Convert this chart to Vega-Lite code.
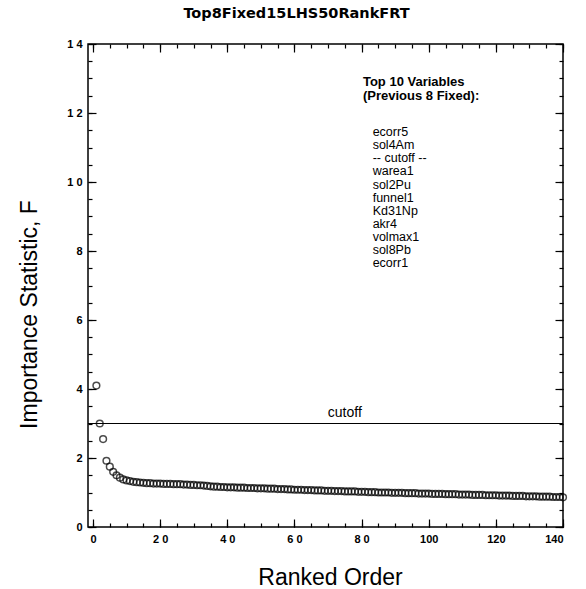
{
  "$schema": "https://vega.github.io/schema/vega-lite/v6.json",
  "width": 475,
  "height": 483,
  "autosize": {"type": "none"},
  "padding": {"left": 88, "top": 44, "right": 23, "bottom": 62},
  "background": "white",
  "title": {
    "text": "Top8Fixed15LHS50RankFRT",
    "font": "DejaVu Sans",
    "fontSize": 14.5,
    "fontWeight": "bold",
    "anchor": "middle",
    "frame": "group",
    "baseline": "alphabetic",
    "offset": 6,
    "dx": -29,
    "color": "black"
  },
  "config": {
    "view": {"stroke": "black", "strokeWidth": 1.5},
    "axis": {
      "domain": false,
      "grid": false,
      "tickColor": "black",
      "tickWidth": 1.2,
      "labelColor": "black",
      "titleColor": "black"
    }
  },
  "datasets": {
    "ranks": [
      {"rank": 1, "F": 4.10}, {"rank": 2, "F": 3.00}, {"rank": 3, "F": 2.55}, {"rank": 4, "F": 1.92},
      {"rank": 5, "F": 1.75}, {"rank": 6, "F": 1.60}, {"rank": 7, "F": 1.50}, {"rank": 8, "F": 1.43},
      {"rank": 9, "F": 1.38}, {"rank": 10, "F": 1.35}, {"rank": 11, "F": 1.33}, {"rank": 12, "F": 1.31},
      {"rank": 13, "F": 1.30}, {"rank": 14, "F": 1.29}, {"rank": 15, "F": 1.28}, {"rank": 16, "F": 1.27},
      {"rank": 17, "F": 1.27}, {"rank": 18, "F": 1.26}, {"rank": 19, "F": 1.26}, {"rank": 20, "F": 1.26},
      {"rank": 21, "F": 1.25}, {"rank": 22, "F": 1.25}, {"rank": 23, "F": 1.25}, {"rank": 24, "F": 1.24},
      {"rank": 25, "F": 1.24}, {"rank": 26, "F": 1.24}, {"rank": 27, "F": 1.23}, {"rank": 28, "F": 1.23},
      {"rank": 29, "F": 1.22}, {"rank": 30, "F": 1.22}, {"rank": 31, "F": 1.21}, {"rank": 32, "F": 1.21},
      {"rank": 33, "F": 1.20}, {"rank": 34, "F": 1.19}, {"rank": 35, "F": 1.18}, {"rank": 36, "F": 1.17},
      {"rank": 37, "F": 1.17}, {"rank": 38, "F": 1.16}, {"rank": 39, "F": 1.16}, {"rank": 40, "F": 1.15},
      {"rank": 41, "F": 1.15}, {"rank": 42, "F": 1.15}, {"rank": 43, "F": 1.14}, {"rank": 44, "F": 1.14},
      {"rank": 45, "F": 1.14}, {"rank": 46, "F": 1.13}, {"rank": 47, "F": 1.13}, {"rank": 48, "F": 1.13},
      {"rank": 49, "F": 1.12}, {"rank": 50, "F": 1.12}, {"rank": 51, "F": 1.12}, {"rank": 52, "F": 1.11},
      {"rank": 53, "F": 1.11}, {"rank": 54, "F": 1.11}, {"rank": 55, "F": 1.10}, {"rank": 56, "F": 1.10},
      {"rank": 57, "F": 1.10}, {"rank": 58, "F": 1.09}, {"rank": 59, "F": 1.09}, {"rank": 60, "F": 1.08},
      {"rank": 61, "F": 1.08}, {"rank": 62, "F": 1.08}, {"rank": 63, "F": 1.07}, {"rank": 64, "F": 1.07},
      {"rank": 65, "F": 1.07}, {"rank": 66, "F": 1.06}, {"rank": 67, "F": 1.06}, {"rank": 68, "F": 1.06},
      {"rank": 69, "F": 1.05}, {"rank": 70, "F": 1.05}, {"rank": 71, "F": 1.05}, {"rank": 72, "F": 1.04},
      {"rank": 73, "F": 1.04}, {"rank": 74, "F": 1.04}, {"rank": 75, "F": 1.03}, {"rank": 76, "F": 1.03},
      {"rank": 77, "F": 1.03}, {"rank": 78, "F": 1.03}, {"rank": 79, "F": 1.02}, {"rank": 80, "F": 1.02},
      {"rank": 81, "F": 1.02}, {"rank": 82, "F": 1.01}, {"rank": 83, "F": 1.01}, {"rank": 84, "F": 1.01},
      {"rank": 85, "F": 1.00}, {"rank": 86, "F": 1.00}, {"rank": 87, "F": 1.00}, {"rank": 88, "F": 1.00},
      {"rank": 89, "F": 0.99}, {"rank": 90, "F": 0.99}, {"rank": 91, "F": 0.99}, {"rank": 92, "F": 0.99},
      {"rank": 93, "F": 0.98}, {"rank": 94, "F": 0.98}, {"rank": 95, "F": 0.98}, {"rank": 96, "F": 0.98},
      {"rank": 97, "F": 0.97}, {"rank": 98, "F": 0.97}, {"rank": 99, "F": 0.97}, {"rank": 100, "F": 0.97},
      {"rank": 101, "F": 0.96}, {"rank": 102, "F": 0.96}, {"rank": 103, "F": 0.96}, {"rank": 104, "F": 0.96},
      {"rank": 105, "F": 0.95}, {"rank": 106, "F": 0.95}, {"rank": 107, "F": 0.95}, {"rank": 108, "F": 0.95},
      {"rank": 109, "F": 0.94}, {"rank": 110, "F": 0.94}, {"rank": 111, "F": 0.94}, {"rank": 112, "F": 0.94},
      {"rank": 113, "F": 0.93}, {"rank": 114, "F": 0.93}, {"rank": 115, "F": 0.93}, {"rank": 116, "F": 0.93},
      {"rank": 117, "F": 0.92}, {"rank": 118, "F": 0.92}, {"rank": 119, "F": 0.92}, {"rank": 120, "F": 0.92},
      {"rank": 121, "F": 0.91}, {"rank": 122, "F": 0.91}, {"rank": 123, "F": 0.91}, {"rank": 124, "F": 0.91},
      {"rank": 125, "F": 0.90}, {"rank": 126, "F": 0.90}, {"rank": 127, "F": 0.90}, {"rank": 128, "F": 0.90},
      {"rank": 129, "F": 0.89}, {"rank": 130, "F": 0.89}, {"rank": 131, "F": 0.89}, {"rank": 132, "F": 0.89},
      {"rank": 133, "F": 0.88}, {"rank": 134, "F": 0.88}, {"rank": 135, "F": 0.88}, {"rank": 136, "F": 0.88},
      {"rank": 137, "F": 0.87}, {"rank": 138, "F": 0.87}, {"rank": 139, "F": 0.87}, {"rank": 140, "F": 0.86}
    ]
  },
  "data": {"name": "ranks"},
  "resolve": {"axis": {"x": "independent", "y": "independent"}},
  "layer": [
    {
      "mark": {"type": "point", "shape": "circle", "filled": false, "stroke": "black", "strokeWidth": 1.5, "size": 45},
      "encoding": {
        "x": {
          "field": "rank", "type": "quantitative",
          "scale": {"domain": [-1.5, 140], "nice": false, "zero": false},
          "axis": {
            "orient": "bottom",
            "values": [0, 20, 40, 60, 80, 100, 120, 140],
            "tickSize": -8,
            "labelPadding": 14,
            "labelFont": "Liberation Sans",
            "labelFontWeight": "bold",
            "labelFontSize": 11,
            "labelExpr": "length(datum.label) == 2 ? substring(datum.label, 0, 1) + ' ' + substring(datum.label, 1, 2) : datum.label",
            "title": "Ranked Order",
            "titleFont": "Liberation Sans",
            "titleFontWeight": "normal",
            "titleFontSize": 23,
            "titleBaseline": "alphabetic",
            "titleX": 242,
            "titleY": 57
          }
        },
        "y": {
          "field": "F", "type": "quantitative",
          "scale": {"domain": [0, 14], "nice": false},
          "axis": {
            "orient": "left",
            "values": [0, 2, 4, 6, 8, 10, 12, 14],
            "tickSize": -8,
            "labelPadding": 14,
            "labelFont": "Liberation Sans",
            "labelFontWeight": "bold",
            "labelFontSize": 11,
            "labelExpr": "length(datum.label) == 2 ? substring(datum.label, 0, 1) + ' ' + substring(datum.label, 1, 2) : datum.label",
            "title": "Importance Statistic, F",
            "titleFont": "Liberation Sans",
            "titleFontWeight": "normal",
            "titleFontSize": 23,
            "titleBaseline": "alphabetic",
            "titleAngle": -90,
            "titleX": -52,
            "titleY": 270
          }
        }
      }
    },
    {
      "data": {"values": [{}]},
      "mark": {"type": "rule", "stroke": "black", "strokeWidth": 1},
      "encoding": {
        "y": {"datum": 3, "type": "quantitative", "axis": null}
      }
    },
    {
      "data": {"values": [{}]},
      "mark": {"type": "text", "font": "Liberation Sans", "fontSize": 14, "align": "center", "baseline": "alphabetic", "color": "black"},
      "encoding": {
        "x": {"datum": 75, "type": "quantitative", "axis": null},
        "y": {"datum": 3.19, "type": "quantitative", "axis": null},
        "text": {"value": "cutoff"}
      }
    },
    {
      "data": {"values": [{}]},
      "mark": {"type": "text", "font": "Liberation Sans", "fontSize": 13, "fontWeight": "bold", "align": "left", "baseline": "top", "lineHeight": 14, "color": "black"},
      "encoding": {
        "x": {"datum": 80.4, "type": "quantitative", "axis": null},
        "y": {"datum": 13.07, "type": "quantitative", "axis": null},
        "text": {"value": ["Top  10  Variables", "(Previous  8  Fixed):"]}
      }
    },
    {
      "data": {"values": [{}]},
      "mark": {"type": "text", "font": "Liberation Sans", "fontSize": 12.5, "align": "left", "baseline": "top", "lineHeight": 13.1, "color": "black"},
      "encoding": {
        "x": {"datum": 83.3, "type": "quantitative", "axis": null},
        "y": {"datum": 11.62, "type": "quantitative", "axis": null},
        "text": {"value": ["ecorr5", "sol4Am", "-- cutoff --", "warea1", "sol2Pu", "funnel1", "Kd31Np", "akr4", "volmax1", "sol8Pb", "ecorr1"]}
      }
    },
    {
      "mark": {"type": "point", "opacity": 0},
      "encoding": {
        "x": {
          "field": "rank", "type": "quantitative",
          "axis": {"orient": "bottom", "values": [0, 5, 10, 15, 20, 25, 30, 35, 40, 45, 50, 55, 60, 65, 70, 75, 80, 85, 90, 95, 100, 105, 110, 115, 120, 125, 130, 135, 140], "tickSize": -4, "labels": false, "title": null}
        },
        "y": {
          "field": "F", "type": "quantitative",
          "axis": {"orient": "left", "values": [0, 0.5, 1, 1.5, 2, 2.5, 3, 3.5, 4, 4.5, 5, 5.5, 6, 6.5, 7, 7.5, 8, 8.5, 9, 9.5, 10, 10.5, 11, 11.5, 12, 12.5, 13, 13.5, 14], "tickSize": -4, "labels": false, "title": null}
        }
      }
    },
    {
      "mark": {"type": "point", "opacity": 0},
      "encoding": {
        "x": {
          "field": "rank", "type": "quantitative",
          "axis": {"orient": "top", "values": [0, 20, 40, 60, 80, 100, 120, 140], "tickSize": -8, "labels": false, "title": null}
        },
        "y": {
          "field": "F", "type": "quantitative",
          "axis": {"orient": "right", "values": [0, 2, 4, 6, 8, 10, 12, 14], "tickSize": -8, "labels": false, "title": null}
        }
      }
    },
    {
      "mark": {"type": "point", "opacity": 0},
      "encoding": {
        "x": {
          "field": "rank", "type": "quantitative",
          "axis": {"orient": "top", "values": [0, 5, 10, 15, 20, 25, 30, 35, 40, 45, 50, 55, 60, 65, 70, 75, 80, 85, 90, 95, 100, 105, 110, 115, 120, 125, 130, 135, 140], "tickSize": -4, "labels": false, "title": null}
        },
        "y": {
          "field": "F", "type": "quantitative",
          "axis": {"orient": "right", "values": [0, 0.5, 1, 1.5, 2, 2.5, 3, 3.5, 4, 4.5, 5, 5.5, 6, 6.5, 7, 7.5, 8, 8.5, 9, 9.5, 10, 10.5, 11, 11.5, 12, 12.5, 13, 13.5, 14], "tickSize": -4, "labels": false, "title": null}
        }
      }
    }
  ]
}
